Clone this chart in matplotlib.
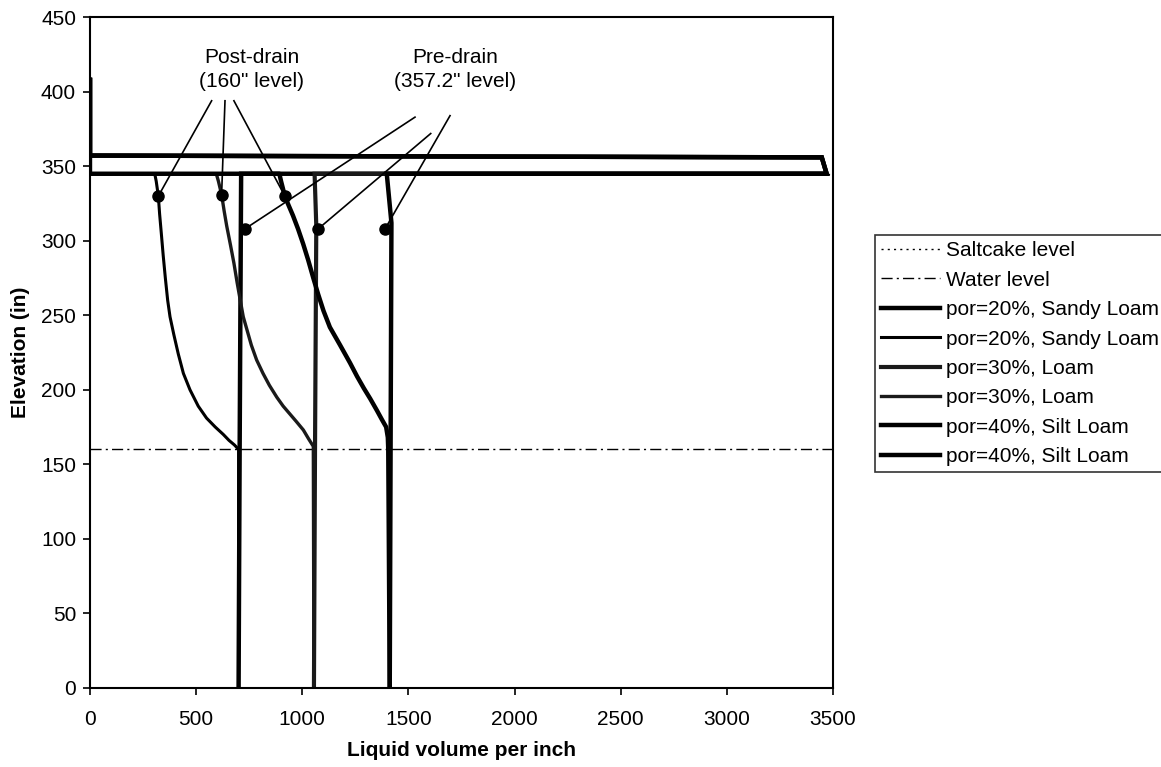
import numpy as np
import matplotlib
matplotlib.use("Agg")
import matplotlib.pyplot as plt

matplotlib.rcParams['font.family'] = ['Liberation Sans', 'DejaVu Sans']
matplotlib.rcParams['font.size'] = 15

# Levels (in)
saltcakeLevel = 345
waterLevel = 160
topLevel = 408

# Pre-drain profiles: liquid volume per inch vs elevation
pre20_x = [700, 705, 712, 3470, 3447, 0, 0]
pre20_y = [0, 160, 345, 345, 356, 357.2, topLevel]
pre30_x = [1055, 1060, 1066, 1058, 3470, 3447, 0, 0]
pre30_y = [0, 160, 310, 345, 345, 356, 357.2, topLevel]
pre40_x = [1412, 1416, 1420, 1398, 3470, 3447, 0, 0]
pre40_y = [0, 160, 312, 345, 345, 356, 357.2, topLevel]

# Post-drain profiles
post20_x = [700, 700, 680, 655, 628, 590, 549, 510, 471, 440, 416, 395, 377,
            366, 355, 345, 336, 328, 322, 312, 305, 0, 0]
post20_y = [0, 160, 163, 166, 170, 175, 181, 189, 200, 211, 224, 237, 249,
            260, 275, 290, 305, 318, 330, 340, 345, 345, topLevel]
post30_x = [1055, 1052, 1030, 1005, 970, 940, 910, 880, 845, 815, 785, 760, 740,
            722, 708, 693, 678, 662, 644, 632, 620, 605, 595, 0, 0]
post30_y = [0, 162, 167, 173, 179, 184, 189, 195, 203, 211, 220, 230, 240,
            249, 260, 272, 285, 297, 310, 320, 331, 340, 345, 345, topLevel]
post40_x = [1412, 1405, 1403, 1395, 1375, 1352, 1320, 1290, 1258, 1225, 1178,
            1130, 1100, 1075, 1052, 1028, 1004, 980, 956, 935, 918, 900, 892, 0, 0]
post40_y = [0, 160, 168, 175, 180, 186, 194, 201, 209, 218, 230,
            242, 253, 264, 275, 287, 298, 308, 317, 324, 330, 340, 345, 345, topLevel]

# Callout labels and where their leader lines end
postText = (762, 415)
postStarts = [(573, 394), (636, 394), (678, 394)]
postDots = [(322, 330), (620, 331), (918, 330)]
preText = (1722, 415)
preStarts = [(1531, 383), (1605, 372), (1696, 384)]
preDots = [(730, 308), (1075, 308), (1390, 308)]

fig = plt.figure(figsize=(11.61, 7.67), dpi=100)
ax = fig.add_axes([0.0775, 0.1034, 0.64, 0.874])

ax.plot([0, 3500], [saltcakeLevel, saltcakeLevel], color='black', lw=1.0,
        linestyle=(0, (1.5, 3)), label='Saltcake level')
ax.plot([0, 3500], [waterLevel, waterLevel], color='black', lw=1.0,
        linestyle=(0, (8, 3, 1.5, 3)), label='Water level')

ax.plot(pre20_x, pre20_y, color='black', lw=3.2, label='por=20%, Sandy Loam', solid_joinstyle='miter')
ax.plot(post20_x, post20_y, color='black', lw=2.2, label='por=20%, Sandy Loam')
ax.plot(pre30_x, pre30_y, color='#1a1a1a', lw=3.0, label='por=30%, Loam', solid_joinstyle='miter')
ax.plot(post30_x, post30_y, color='#1a1a1a', lw=2.4, label='por=30%, Loam')
ax.plot(pre40_x, pre40_y, color='black', lw=3.2, label='por=40%, Silt Loam', solid_joinstyle='miter')
ax.plot(post40_x, post40_y, color='black', lw=3.2, label='por=40%, Silt Loam')

# callouts
ax.text(postText[0], postText[1], 'Post-drain\n(160" level)', ha='center', va='center',
        linespacing=1.3)
ax.text(preText[0], preText[1], 'Pre-drain\n(357.2" level)', ha='center', va='center',
        linespacing=1.3)
for (x0, y0), (x1, y1) in zip(postStarts + preStarts, postDots + preDots):
    ax.plot([x0, x1], [y0, y1], color='black', lw=1.2)
    ax.plot(x1, y1, 'o', color='black', markersize=8)

ax.set_xlim(0, 3500)
ax.set_ylim(0, 450)
ax.set_xticks(np.arange(0, 3501, 500))
ax.set_yticks(np.arange(0, 451, 50))
ax.tick_params(direction='out', length=5, width=1.2, pad=5)
ax.tick_params(axis='x', pad=11)
for s in ax.spines.values():
    s.set_linewidth(1.5)

ax.set_xlabel('Liquid volume per inch', fontweight='bold', labelpad=9)
ax.set_ylabel('Elevation (in)', fontweight='bold', labelpad=8)

leg = ax.legend(loc='upper left', bbox_to_anchor=(0.7537, 0.6936), bbox_transform=fig.transFigure,
                frameon=True, fancybox=False, edgecolor='black', handlelength=2.8,
                handletextpad=0.3, labelspacing=0.5, borderpad=0.3, borderaxespad=0)
leg.get_frame().set_linewidth(1.2)

plt.savefig('out.png', dpi=100)
